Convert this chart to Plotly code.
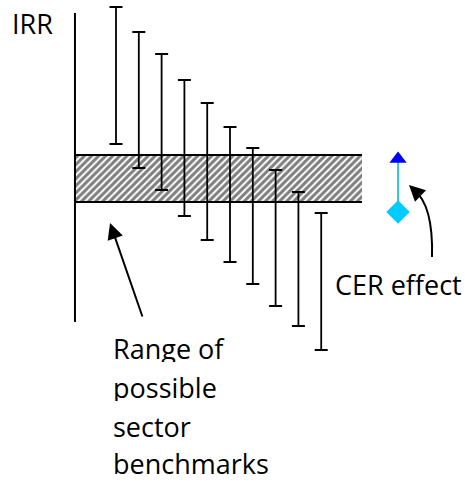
import plotly.graph_objects as go

# ---- data (IRR in arbitrary units) ----
projects = [1, 2, 3, 4, 5, 6, 7, 8, 9, 10]
irr_high = [32.3, 29.8, 27.6, 25.0, 22.7, 20.3, 18.2, 16.0, 13.8, 11.7]
irr_low = [18.6, 16.2, 14.0, 11.4, 9.0, 6.8, 4.6, 2.4, 0.4, -2.0]
benchmark_low = 12.8
benchmark_high = 17.5
cer_x = 13.37
cer_before = 11.8
cer_after = 17.1

AXIS_X = -0.8
BAND_END = 11.79
W, H = 470, 481
X0, X1 = -4.088, -4.088 + W / 22.8
Y1 = 33.0
Y0 = Y1 - H / 10.0
FONT = "Open Sans"
FS = 27

fig = go.Figure()

# hatched benchmark band
fig.add_trace(go.Scatter(
    x=[AXIS_X, BAND_END, BAND_END, AXIS_X, AXIS_X],
    y=[benchmark_low, benchmark_low, benchmark_high, benchmark_high, benchmark_low],
    fill="toself", mode="lines", line=dict(width=0, color="rgba(0,0,0,0)"),
    fillcolor="white",
    fillpattern=dict(shape="/", fgcolor="#000000", bgcolor="white", size=5, solidity=0.6),
    hoverinfo="skip", showlegend=False))
for yv in (benchmark_low, benchmark_high):
    fig.add_trace(go.Scatter(x=[AXIS_X, BAND_END], y=[yv, yv], mode="lines",
                             line=dict(color="black", width=2), showlegend=False, hoverinfo="skip"))

# vertical IRR axis
fig.add_trace(go.Scatter(x=[AXIS_X, AXIS_X], y=[0.8, 31.7], mode="lines",
                         line=dict(color="black", width=2), showlegend=False, hoverinfo="skip"))

# IRR ranges as error bars
fig.add_trace(go.Scatter(
    x=projects, y=irr_low, mode="markers", marker=dict(size=1, color="rgba(0,0,0,0)"),
    error_y=dict(type="data", symmetric=False,
                 array=[h - l for h, l in zip(irr_high, irr_low)],
                 arrayminus=[0] * len(projects),
                 color="black", thickness=1.8, width=6.5),
    showlegend=False, hoverinfo="skip"))

# CER effect
fig.add_trace(go.Scatter(x=[cer_x, cer_x], y=[cer_before, cer_after], mode="lines",
                         line=dict(color="#33cccc", width=2), showlegend=False, hoverinfo="skip"))
fig.add_trace(go.Scatter(x=[cer_x], y=[cer_after], mode="markers",
                         marker=dict(symbol="triangle-up", size=15, color="#0000ff"),
                         showlegend=False, hoverinfo="skip"))
fig.add_trace(go.Scatter(x=[cer_x], y=[cer_before], mode="markers",
                         marker=dict(symbol="diamond", size=18, color="#00ccff"),
                         showlegend=False, hoverinfo="skip"))

# curved arrow to CER effect
fig.add_shape(type="path", xref="x", yref="y",
              path="M 14.86,7.3 Q 14.92,12.5 14.07,14.0",
              line=dict(color="black", width=2))
fig.add_annotation(x=13.85, y=14.5, ax=14.1, ay=13.95, xref="x", yref="y",
                   axref="x", ayref="y", text="", showarrow=True,
                   arrowhead=2, arrowsize=1.6, arrowwidth=2, arrowcolor="black", standoff=0)

# straight arrow to band
fig.add_annotation(x=0.737, y=10.7, ax=2.18, ay=1.2, xref="x", yref="y",
                   axref="x", ayref="y", text="", showarrow=True,
                   arrowhead=2, arrowsize=1.6, arrowwidth=2, arrowcolor="black", standoff=0)

def label(text, px, py):
    fig.add_annotation(x=px / W, y=1 - py / H, xref="paper", yref="paper",
                       text=text, showarrow=False, xanchor="left", yanchor="middle",
                       height=28, valign="middle",
                       font=dict(family=FONT, size=FS, color="black"))

label("IRR", 10, 23)
label("CER effect", 333, 284)
label("Range of", 111, 348)
label("possible", 111, 387)
label("sector", 111, 426)
label("benchmarks", 111, 463)

fig.update_layout(
    width=W, height=H, margin=dict(l=0, r=0, t=0, b=0),
    paper_bgcolor="white", plot_bgcolor="white",
    xaxis=dict(range=[X0, X1], visible=False, fixedrange=True),
    yaxis=dict(range=[Y0, Y1], visible=False, fixedrange=True),
    showlegend=False,
)

fig.write_html("out.html", config={"displayModeBar": False},
               post_script="document.body.style.margin='0';document.body.style.overflow='hidden';")
